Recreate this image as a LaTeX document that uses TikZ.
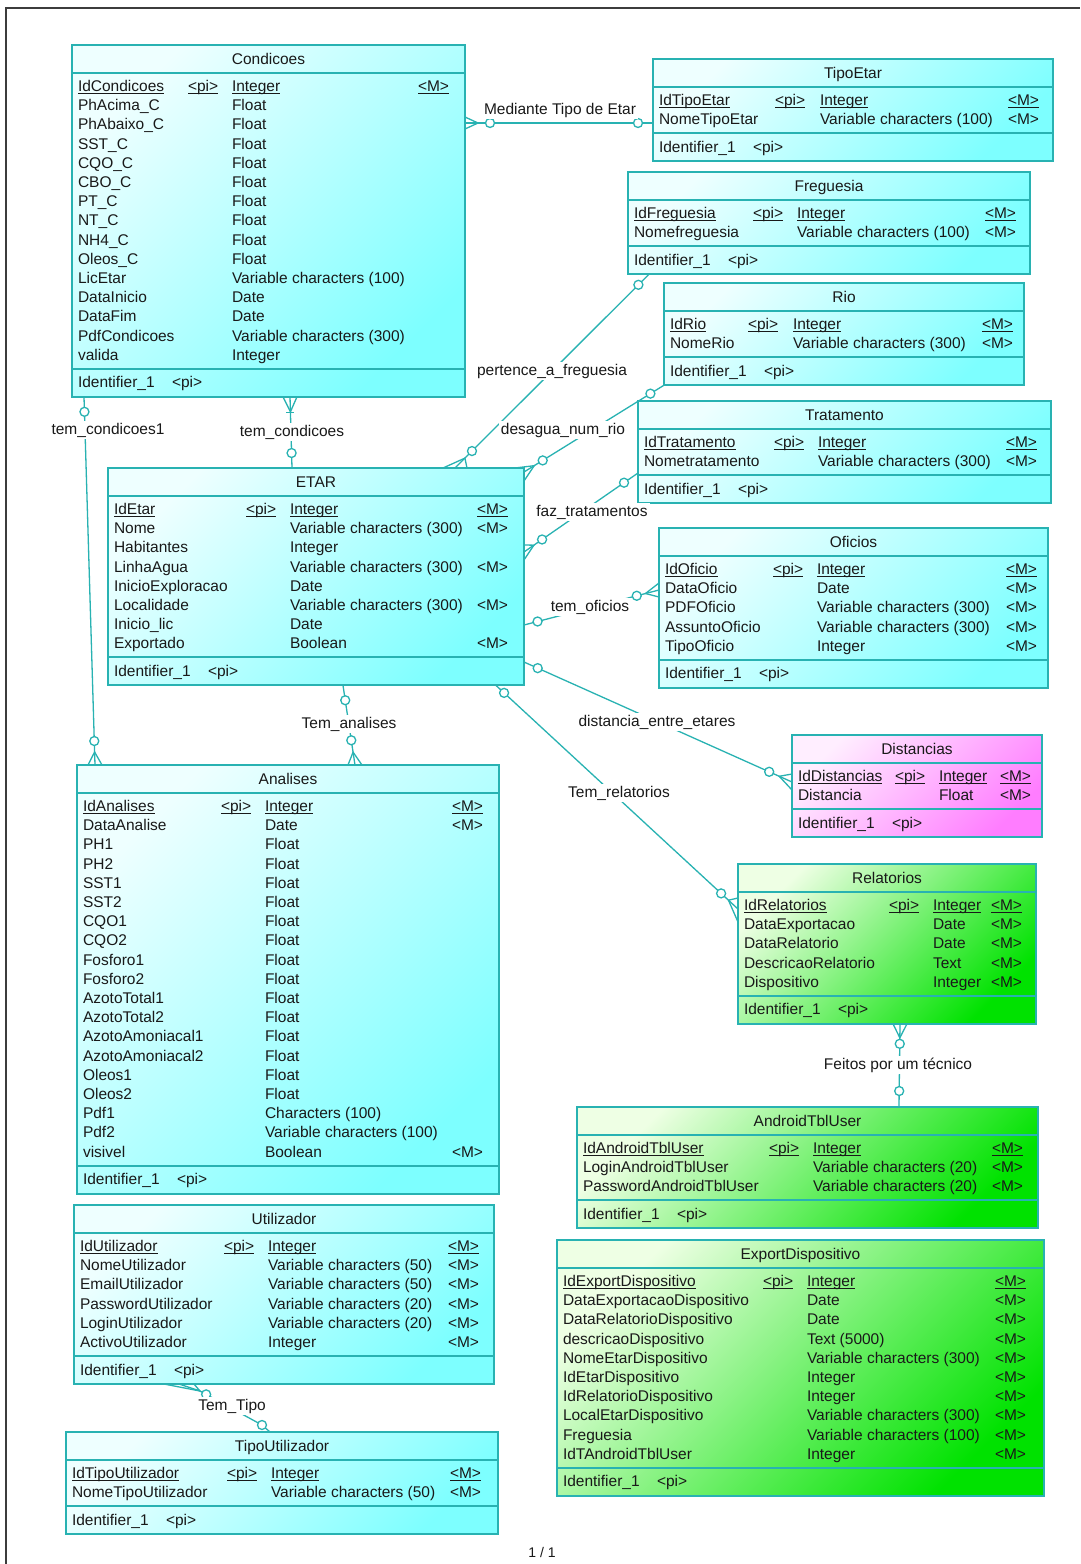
\documentclass[tikz,border=0pt]{standalone}
\usepackage{fontspec}
\setmainfont{Liberation Sans}
\usetikzlibrary{calc}

\definecolor{edgeteal}{RGB}{40,178,178}
\definecolor{ink}{RGB}{25,25,25}
\definecolor{cyanlo}{RGB}{238,255,255}
\definecolor{cyanhi}{RGB}{125,255,255}
\definecolor{greenlo}{RGB}{238,255,228}
\definecolor{greenhi}{RGB}{0,226,0}
\definecolor{pinklo}{RGB}{255,238,255}
\definecolor{pinkhi}{RGB}{255,125,255}
\definecolor{framegray}{RGB}{60,60,60}

\newcounter{cellno}

\tikzset{
  ebox/.style={rectangle, draw=edgeteal, line width=2pt, inner sep=0pt, outer sep=0pt},
  cyanfill/.style={top color=cyanlo, bottom color=cyanhi, shading angle=45},
  greenfill/.style={top color=greenlo, bottom color=greenhi, shading angle=45},
  pinkfill/.style={top color=pinklo, bottom color=pinkhi, shading angle=45},
  divider/.style={draw=edgeteal, line width=2pt},
  txt/.style={inner sep=0pt, outer sep=0pt, text=ink, font=\fontsize{15.5}{18}\selectfont},
  cell/.code={\stepcounter{cellno}\edef\cellname{cell\arabic{cellno}}%
    \pgfkeysalso{txt, anchor=base west, name=\cellname}},
  link/.style={draw=edgeteal, line width=1.3pt},
  ring/.style={circle, draw=edgeteal, line width=1.3pt, fill=white, minimum size=9pt, inner sep=0pt},
  tag/.style={txt, fill=white, inner sep=2pt},
  pageframe/.style={draw=framegray, line width=2pt}
}

% underlined text for primary key rows
\newcommand\ulined[1]{\setbox0=\hbox{#1}\rlap{\rule[-2.6pt]{\wd0}{1.1pt}}\box0}

% entity box: name, x, y, width, number of attribute rows, fill style, title
\newcommand\erbox[7]{%
  \pgfmathsetmacro\boxH{83+19.2*(#5-1)}
  \node[ebox,#6,minimum width=#4pt,minimum height=\boxH pt,anchor=north west] (#1) at (#2,#3) {};
  \draw[divider] ($(#1.north west)+(0,28)$) -- ($(#1.north east)+(0,28)$);
  \draw[divider] ($(#1.south west)+(0,-28)$) -- ($(#1.south east)+(0,-28)$);
  \node[txt,anchor=base] (#1-title) at ($(#1.north)+(0,19.5)$) {#7};
  \node[txt,anchor=base west] (#1-ident) at ($(#1.south west)+(6,-9)$) {Identifier\_1};
  \node[txt,anchor=base west] (#1-identpi) at ($(#1.south west)+(100,-9)$) {<pi>};
  \def\boxX{#2}\def\boxY{#3}%
}
% column offsets: <pi>, data type, <M>
\newcommand\colset[3]{\def\colPi{#1}\def\colType{#2}\def\colMand{#3}}
\newcommand\putcell[3]{\node[cell] at (#1,#2) {#3};}
% key attribute row
\newcommand\keyrow[2]{%
  \pgfmathsetmacro\rowY{\boxY+46.5}
  \putcell{\boxX+6}{\rowY}{\ulined{#1}}
  \putcell{\boxX+\colPi}{\rowY}{\ulined{<pi>}}
  \putcell{\boxX+\colType}{\rowY}{\ulined{#2}}
  \putcell{\boxX+\colMand}{\rowY}{\ulined{<M>}}
}
% ordinary attribute row: index, name, type, mandatory flag
\newcommand\attrow[4]{%
  \pgfmathsetmacro\rowY{\boxY+46.5+19.2*#1}
  \putcell{\boxX+6}{\rowY}{#2}
  \putcell{\boxX+\colType}{\rowY}{#3}
  \ifnum#4=1 \putcell{\boxX+\colMand}{\rowY}{<M>}\fi
}
% crow's foot: end point, other end, length, two fan offsets
\newcommand\crowfoot[5]{%
  \draw[link] ($(#1)+(#4)$) -- ($(#1)!#3!(#2)$) -- ($(#1)+(#5)$);
}

\begin{document}
\begin{tikzpicture}[x=1pt,y=-1pt]
\useasboundingbox (0,0) rectangle (1080,1564);
\fill[white] (0,0) rectangle (1080,1564);
\draw[pageframe] (6,1564) -- (6,8) -- (1080,8);

% ---------- Condicoes
\erbox{cond}{72}{45}{393}{15}{cyanfill}{Condicoes}
\colset{116}{160}{346}
\keyrow{IdCondicoes}{Integer}
\attrow{1}{PhAcima\_C}{Float}{0}
\attrow{2}{PhAbaixo\_C}{Float}{0}
\attrow{3}{SST\_C}{Float}{0}
\attrow{4}{CQO\_C}{Float}{0}
\attrow{5}{CBO\_C}{Float}{0}
\attrow{6}{PT\_C}{Float}{0}
\attrow{7}{NT\_C}{Float}{0}
\attrow{8}{NH4\_C}{Float}{0}
\attrow{9}{Oleos\_C}{Float}{0}
\attrow{10}{LicEtar}{Variable characters (100)}{0}
\attrow{11}{DataInicio}{Date}{0}
\attrow{12}{DataFim}{Date}{0}
\attrow{13}{PdfCondicoes}{Variable characters (300)}{0}
\attrow{14}{valida}{Integer}{0}

% ---------- TipoEtar
\erbox{tipoetar}{653}{59}{400}{2}{cyanfill}{TipoEtar}
\colset{122}{167}{355}
\keyrow{IdTipoEtar}{Integer}
\attrow{1}{NomeTipoEtar}{Variable characters (100)}{1}

% ---------- Freguesia
\erbox{fregue}{628}{172}{402}{2}{cyanfill}{Freguesia}
\colset{125}{169}{357}
\keyrow{IdFreguesia}{Integer}
\attrow{1}{Nomefreguesia}{Variable characters (100)}{1}

% ---------- Rio
\erbox{rio}{664}{283}{360}{2}{cyanfill}{Rio}
\colset{84}{129}{318}
\keyrow{IdRio}{Integer}
\attrow{1}{NomeRio}{Variable characters (300)}{1}

% ---------- Tratamento
\erbox{trat}{638}{401}{413}{2}{cyanfill}{Tratamento}
\colset{136}{180}{368}
\keyrow{IdTratamento}{Integer}
\attrow{1}{Nometratamento}{Variable characters (300)}{1}

% ---------- ETAR
\erbox{etar}{108}{468}{416}{8}{cyanfill}{ETAR}
\colset{138}{182}{369}
\keyrow{IdEtar}{Integer}
\attrow{1}{Nome}{Variable characters (300)}{1}
\attrow{2}{Habitantes}{Integer}{0}
\attrow{3}{LinhaAgua}{Variable characters (300)}{1}
\attrow{4}{InicioExploracao}{Date}{0}
\attrow{5}{Localidade}{Variable characters (300)}{1}
\attrow{6}{Inicio\_lic}{Date}{0}
\attrow{7}{Exportado}{Boolean}{1}

% ---------- Oficios
\erbox{oficios}{659}{528}{389}{5}{cyanfill}{Oficios}
\colset{114}{158}{347}
\keyrow{IdOficio}{Integer}
\attrow{1}{DataOficio}{Date}{1}
\attrow{2}{PDFOficio}{Variable characters (300)}{1}
\attrow{3}{AssuntoOficio}{Variable characters (300)}{1}
\attrow{4}{TipoOficio}{Integer}{1}

% ---------- Distancias
\erbox{dist}{792}{735}{250}{2}{pinkfill}{Distancias}
\colset{103}{147}{208}
\keyrow{IdDistancias}{Integer}
\attrow{1}{Distancia}{Float}{1}

% ---------- Relatorios
\erbox{relat}{738}{864}{298}{5}{greenfill}{Relatorios}
\colset{151}{195}{253}
\keyrow{IdRelatorios}{Integer}
\attrow{1}{DataExportacao}{Date}{1}
\attrow{2}{DataRelatorio}{Date}{1}
\attrow{3}{DescricaoRelatorio}{Text}{1}
\attrow{4}{Dispositivo}{Integer}{1}

% ---------- AndroidTblUser
\erbox{android}{577}{1107}{461}{3}{greenfill}{AndroidTblUser}
\colset{192}{236}{415}
\keyrow{IdAndroidTblUser}{Integer}
\attrow{1}{LoginAndroidTblUser}{Variable characters (20)}{1}
\attrow{2}{PasswordAndroidTblUser}{Variable characters (20)}{1}

% ---------- ExportDispositivo
\erbox{export}{557}{1240}{487}{10}{greenfill}{ExportDispositivo}
\colset{206}{250}{438}
\keyrow{IdExportDispositivo}{Integer}
\attrow{1}{DataExportacaoDispositivo}{Date}{1}
\attrow{2}{DataRelatorioDispositivo}{Date}{1}
\attrow{3}{descricaoDispositivo}{Text (5000)}{1}
\attrow{4}{NomeEtarDispositivo}{Variable characters (300)}{1}
\attrow{5}{IdEtarDispositivo}{Integer}{1}
\attrow{6}{IdRelatorioDispositivo}{Integer}{1}
\attrow{7}{LocalEtarDispositivo}{Variable characters (300)}{1}
\attrow{8}{Freguesia}{Variable characters (100)}{1}
\attrow{9}{IdTAndroidTblUser}{Integer}{1}

% ---------- Analises
\erbox{analises}{77}{765}{422}{19}{cyanfill}{Analises}
\colset{144}{188}{375}
\keyrow{IdAnalises}{Integer}
\attrow{1}{DataAnalise}{Date}{1}
\attrow{2}{PH1}{Float}{0}
\attrow{3}{PH2}{Float}{0}
\attrow{4}{SST1}{Float}{0}
\attrow{5}{SST2}{Float}{0}
\attrow{6}{CQO1}{Float}{0}
\attrow{7}{CQO2}{Float}{0}
\attrow{8}{Fosforo1}{Float}{0}
\attrow{9}{Fosforo2}{Float}{0}
\attrow{10}{AzotoTotal1}{Float}{0}
\attrow{11}{AzotoTotal2}{Float}{0}
\attrow{12}{AzotoAmoniacal1}{Float}{0}
\attrow{13}{AzotoAmoniacal2}{Float}{0}
\attrow{14}{Oleos1}{Float}{0}
\attrow{15}{Oleos2}{Float}{0}
\attrow{16}{Pdf1}{Characters (100)}{0}
\attrow{17}{Pdf2}{Variable characters (100)}{0}
\attrow{18}{visivel}{Boolean}{1}

% ---------- Utilizador
\erbox{util}{74}{1205}{420}{6}{cyanfill}{Utilizador}
\colset{150}{194}{374}
\keyrow{IdUtilizador}{Integer}
\attrow{1}{NomeUtilizador}{Variable characters (50)}{1}
\attrow{2}{EmailUtilizador}{Variable characters (50)}{1}
\attrow{3}{PasswordUtilizador}{Variable characters (20)}{1}
\attrow{4}{LoginUtilizador}{Variable characters (20)}{1}
\attrow{5}{ActivoUtilizador}{Integer}{1}

% ---------- TipoUtilizador
\erbox{tipoutil}{66}{1432}{432}{2}{cyanfill}{TipoUtilizador}
\colset{161}{205}{384}
\keyrow{IdTipoUtilizador}{Integer}
\attrow{1}{NomeTipoUtilizador}{Variable characters (50)}{1}

% ================= relationships
% Mediante Tipo de Etar
\coordinate (a1) at ($(cond.north east)+(0,78)$);
\coordinate (a2) at ($(tipoetar.north west)+(0,64)$);
\draw[link] (a1) -- (a2);
\crowfoot{a1}{a2}{13pt}{0,-6}{0,6}
\node[ring] (a1r) at ($(a1)!25pt!(a2)$) {};
\node[ring] (a2r) at ($(a2)!15pt!(a1)$) {};
\node[tag] (alab) at (560,110) {Mediante Tipo de Etar};

% tem_condicoes
\coordinate (b1) at ($(cond.south west)+(218,0)$);
\coordinate (b2) at ($(etar.north west)+(184,0)$);
\draw[link] (b1) -- (b2);
\crowfoot{b1}{b2}{15pt}{-7,0}{7,0}
\draw[link] ($(b1)!16pt!(b2)+(-4,0)$) -- ($(b1)!16pt!(b2)+(4,0)$);
\node[ring] (b2r) at ($(b2)!15pt!(b1)$) {};
\node[tag] (blab) at (292,432) {tem\_condicoes};

% tem_condicoes1
\coordinate (c1) at ($(cond.south west)+(12,0)$);
\coordinate (c2) at ($(analises.north west)+(18,0)$);
\draw[link] (c1) -- (c2);
\crowfoot{c2}{c1}{13pt}{-7,0}{7,0}
\node[ring] (c1r) at ($(c1)!15pt!(c2)$) {};
\node[ring] (c2r) at ($(c2)!24pt!(c1)$) {};
\node[tag] (clab) at (108,430) {tem\_condicoes1};

% pertence_a_freguesia
\coordinate (d1) at ($(fregue.south west)+(21,0)$);
\coordinate (d2) at ($(etar.north west)+(347,0)$);
\draw[link] (d1) -- (d2);
\crowfoot{d2}{d1}{14pt}{-12,0}{12,0}
\node[ring] (d1r) at ($(d1)!15pt!(d2)$) {};
\node[ring] (d2r) at ($(d2)!24pt!(d1)$) {};
\node[tag] (dlab) at (552,371) {pertence\_a\_freguesia};

% desagua_num_rio
\coordinate (e1) at (rio.south west);
\coordinate (e2) at ($(etar.north east)+(0,4)$);
\draw[link] (e1) -- (e2);
\crowfoot{e2}{e1}{12pt}{-9,-4}{0,9}
\node[ring] (e1r) at ($(e1)!16pt!(e2)$) {};
\node[ring] (e2r) at ($(e2)!22pt!(e1)$) {};
\node[tag] (elab) at (563,430) {desagua\_num\_rio};

% faz_tratamentos
\coordinate (f1) at ($(trat.north west)+(0,72)$);
\coordinate (f2) at ($(etar.north east)+(0,84)$);
\draw[link] (f1) -- (f2);
\crowfoot{f2}{f1}{12pt}{0,-7}{0,8}
\node[ring] (f1r) at ($(f1)!17pt!(f2)$) {};
\node[ring] (f2r) at ($(f2)!22pt!(f1)$) {};
\node[tag] (flab) at (592,512) {faz\_tratamentos};

% tem_oficios
\coordinate (g1) at ($(etar.north east)+(0,157)$);
\coordinate (g2) at ($(oficios.north west)+(0,62)$);
\draw[link] (g1) -- (g2);
\crowfoot{g2}{g1}{14pt}{0,-7}{0,7}
\node[ring] (g1r) at ($(g1)!14pt!(g2)$) {};
\node[ring] (g2r) at ($(g2)!23pt!(g1)$) {};
\node[tag] (glab) at (590,607) {tem\_oficios};

% distancia_entre_etares
\coordinate (h1) at ($(etar.north east)+(0,194)$);
\coordinate (h2) at ($(dist.north west)+(0,47)$);
\draw[link] (h1) -- (h2);
\crowfoot{h2}{h1}{14pt}{0,-8}{0,8}
\node[ring] (h1r) at ($(h1)!15pt!(h2)$) {};
\node[ring] (h2r) at ($(h2)!25pt!(h1)$) {};
\node[tag] (hlab) at (657,722) {distancia\_entre\_etares};

% Tem_relatorios
\coordinate (i1) at ($(etar.south west)+(388,0)$);
\coordinate (i2) at ($(relat.north west)+(0,45)$);
\draw[link] (i1) -- (i2);
\crowfoot{i2}{i1}{13pt}{0,-11}{0,13}
\node[ring] (i1r) at ($(i1)!11pt!(i2)$) {};
\node[ring] (i2r) at ($(i2)!23pt!(i1)$) {};
\node[tag] (ilab) at (619,793) {Tem\_relatorios};

% Tem_analises
\coordinate (j1) at ($(etar.south west)+(235,0)$);
\coordinate (j2) at ($(analises.north west)+(278,0)$);
\draw[link] (j1) -- (j2);
\crowfoot{j2}{j1}{13pt}{-7,0}{7,0}
\node[ring] (j1r) at ($(j1)!15pt!(j2)$) {};
\node[ring] (j2r) at ($(j2)!25pt!(j1)$) {};
\node[tag] (jlab) at (349,724) {Tem\_analises};

% Feitos por um técnico
\coordinate (k1) at ($(relat.south west)+(162,0)$);
\coordinate (k2) at ($(android.north west)+(322,0)$);
\draw[link] (k1) -- (k2);
\crowfoot{k1}{k2}{14pt}{-7,0}{7,0}
\node[ring] (k1r) at ($(k1)!20pt!(k2)$) {};
\node[ring] (k2r) at ($(k2)!16pt!(k1)$) {};
\node[tag] (klab) at (898,1065) {Feitos por um técnico};

% Tem_Tipo
\coordinate (l1) at ($(util.south west)+(90,0)$);
\coordinate (l2) at ($(tipoutil.north west)+(204,0)$);
\coordinate (lbend) at ($(l1)+(36,7)$);
\coordinate (lknee) at ($(l2)+(-8,-7)$);
\draw[link] (l1) -- (lbend) -- (lknee) -- (l2);
\draw[link] ($(util.south west)+(105,0)$) -- (lbend) -- ($(util.south west)+(120,0)$);
\node[ring] (l1r) at ($(lbend)!7pt!(lknee)$) {};
\node[ring] (l2r) at (lknee) {};
\node[tag] (llab) at (232,1406) {Tem\_Tipo};

% page number
\node[txt, font=\fontsize{14}{16}\selectfont] (pageno) at (542,1552) {1 / 1};
\end{tikzpicture}
\end{document}
